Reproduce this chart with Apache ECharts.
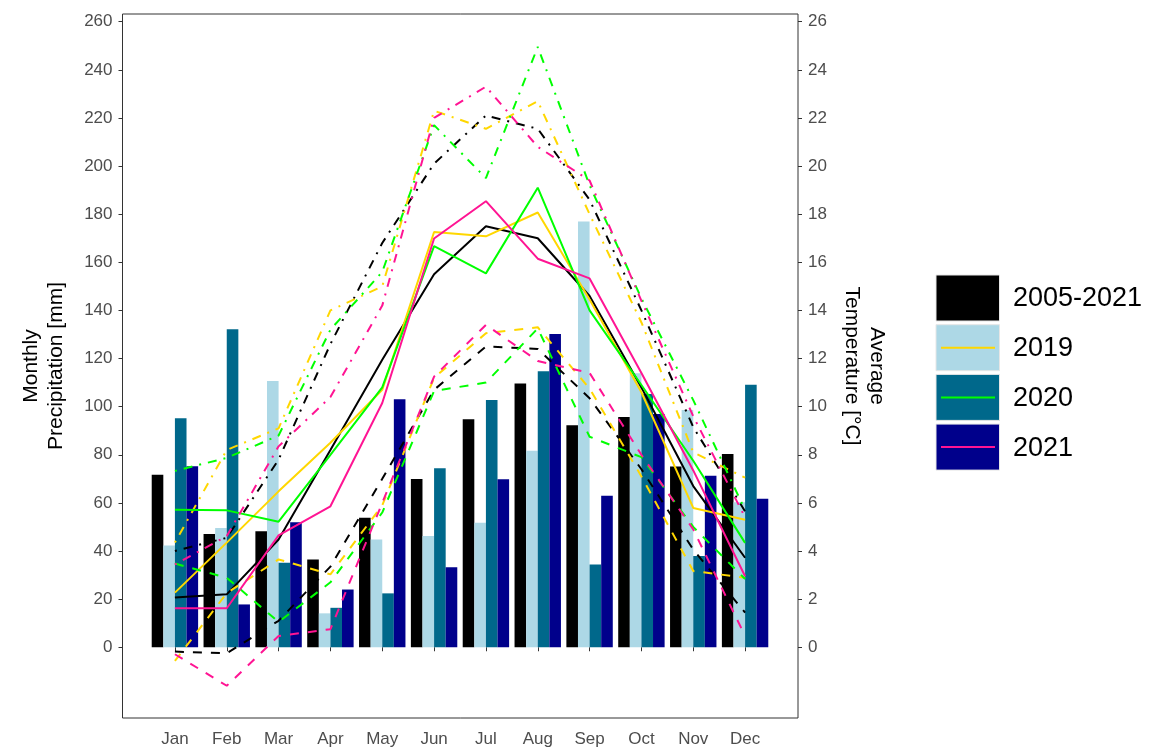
<html>
<head>
  <meta charset="UTF-8">
  <title>Monthly precipitation and temperature</title>
  <script src="https://cdn.jsdelivr.net/npm/echarts@6/dist/echarts.min.js"></script>
  <style>
    body { margin: 0; background: #fff; }
    #main { width: 1151px; height: 751px; }
  </style>
</head>
<body>
<div id="main"></div>
<script>
  var months = ['Jan', 'Feb', 'Mar', 'Apr', 'May', 'Jun', 'Jul', 'Aug', 'Sep', 'Oct', 'Nov', 'Dec'];
  var groups = ['2005-2021', '2019', '2020', '2021'];

  // monthly precipitation [mm]
  var precipAll  = [71.7, 47.1, 48.2, 36.5, 53.8, 69.9, 94.8, 109.6, 92.3, 95.7, 75.1, 80.3];
  var precip2019 = [42.3, 49.6, 110.7, 14.1, 44.8, 46.2, 51.7, 81.7, 177.0, 113.9, 98.6, 60.3];
  var precip2020 = [95.2, 132.2, 35.1, 16.4, 22.4, 74.4, 102.8, 114.7, 34.4, 105.3, 37.9, 109.1];
  var precip2021 = [75.2, 17.8, 52.0, 24.0, 103.1, 33.3, 69.8, 130.2, 63.0, 97.0, 71.3, 61.7];

  // mean temperature [°C]
  var tmeanAll  = [2.07, 2.2, 4.48, 8.2, 11.95, 15.5, 17.5, 17.0, 14.6, 10.8, 6.7, 3.72];
  var tmean2019 = [2.27, 4.35, 6.48, 8.5, 10.7, 17.26, 17.08, 18.07, 14.45, 10.6, 5.79, 5.3];
  var tmean2020 = [5.72, 5.69, 5.22, 8.0, 10.8, 16.67, 15.54, 19.1, 14.0, 10.9, 7.75, 4.34];
  var tmean2021 = [1.62, 1.62, 4.65, 5.86, 10.15, 16.99, 18.54, 16.15, 15.33, 11.4, 7.35, 2.95];

  // minimum temperature [°C]
  var tminAll  = [-0.18, -0.25, 1.1, 3.35, 7.0, 10.7, 12.5, 12.4, 10.35, 7.4, 4.06, 1.44];
  var tmin2019 = [-0.57, 2.25, 3.65, 3.03, 5.9, 11.2, 13.05, 13.3, 10.75, 7.1, 3.17, 2.89];
  var tmin2020 = [3.48, 2.89, 1.05, 2.7, 5.6, 10.65, 11.0, 13.25, 8.75, 7.9, 5.0, 2.84];
  var tmin2021 = [-0.29, -1.6, 0.47, 0.75, 6.0, 11.25, 13.4, 11.9, 11.4, 8.0, 4.9, 0.47];

  // maximum temperature [°C]
  var tmaxAll  = [4.0, 4.55, 7.8, 12.6, 16.8, 20.1, 22.1, 21.55, 18.6, 14.0, 9.15, 5.65];
  var tmax2019 = [4.35, 8.2, 9.1, 14.0, 15.0, 22.3, 21.55, 22.7, 18.0, 13.5, 8.1, 7.05];
  var tmax2020 = [7.33, 7.87, 8.8, 13.2, 15.6, 21.7, 19.5, 24.95, 19.2, 14.5, 10.27, 5.7];
  var tmax2021 = [3.44, 4.62, 8.35, 10.4, 14.2, 22.0, 23.3, 20.8, 19.4, 14.4, 9.6, 5.4];

  var precipTicks = [0, 20, 40, 60, 80, 100, 120, 140, 160, 180, 200, 220, 240, 260];
  var tempTicks = [0, 2, 4, 6, 8, 10, 12, 14, 16, 18, 20, 22, 24, 26];

  var barColors = ['#000000', '#ADD8E6', '#00688B', '#00008B'];
  var lineColors = ['#000000', '#FFD700', '#00FF00', '#FF1493'];

  var precip = [precipAll, precip2019, precip2020, precip2021];
  var tmean = [tmeanAll, tmean2019, tmean2020, tmean2021];
  var tmin = [tminAll, tmin2019, tmin2020, tmin2021];
  var tmax = [tmaxAll, tmax2019, tmax2020, tmax2021];

  var dashed = [9, 9];
  var dotdash = [2, 7, 9, 7];

  var series = [];
  for (var i = 0; i < 4; i++) {
    series.push({
      name: groups[i],
      type: 'bar',
      data: precip[i],
      barWidth: 11.6,
      barGap: '0%',
      itemStyle: { color: barColors[i] },
      z: 2
    });
  }
  function tempLine(name, data, color, type) {
    return {
      name: name,
      type: 'line',
      yAxisIndex: 1,
      data: data,
      showSymbol: false,
      symbol: 'none',
      lineStyle: { color: color, width: 2, type: type },
      z: 3
    };
  }
  for (var i = 0; i < 4; i++) {
    series.push(tempLine(groups[i] + ' max', tmax[i], lineColors[i], dotdash));
    series.push(tempLine(groups[i] + ' min', tmin[i], lineColors[i], dashed));
    series.push(tempLine(groups[i] + ' mean', tmean[i], lineColors[i], 'solid'));
  }

  // legend keys drawn by hand (bar fill + line colour)
  var legendItems = [];
  for (var i = 0; i < 4; i++) {
    var ky = 275 + i * 49.7;
    legendItems.push({
      type: 'rect',
      shape: { x: 936, y: ky, width: 63.5, height: 46 },
      style: { fill: barColors[i], stroke: '#e6e6e6', lineWidth: 1 }
    });
    if (i > 0) {
      legendItems.push({
        type: 'line',
        shape: { x1: 941, y1: ky + 23, x2: 995, y2: ky + 23 },
        style: { stroke: lineColors[i], lineWidth: 2 }
      });
    }
    legendItems.push({
      type: 'text',
      x: 1013,
      y: ky + 24,
      style: {
        text: groups[i],
        fill: '#000',
        font: '27px "Liberation Sans", Arial, sans-serif',
        textAlign: 'left',
        textVerticalAlign: 'middle'
      }
    });
  }

  var tickFont = { fontSize: 17, color: '#4D4D4D', fontFamily: 'Liberation Sans, Arial, sans-serif' };

  var option = {
    animation: false,
    backgroundColor: '#ffffff',
    grid: { left: 149, right: 380, top: 14, bottom: 33 },
    xAxis: {
      type: 'category',
      data: months,
      axisLine: { show: false },
      axisTick: { show: true, alignWithLabel: true, length: 4, lineStyle: { color: '#333333' } },
      axisLabel: Object.assign({ margin: 13 }, tickFont),
      splitLine: { show: false }
    },
    yAxis: [
      {
        type: 'value',
        position: 'left',
        offset: 26.5,
        min: -29.4,
        max: 263.2,
        axisLine: { show: false },
        splitLine: { show: false },
        axisTick: { show: true, length: 4, customValues: precipTicks, lineStyle: { color: '#333333' } },
        axisLabel: Object.assign({ margin: 10, customValues: precipTicks }, tickFont)
      },
      {
        type: 'value',
        position: 'right',
        offset: 27,
        min: -2.94,
        max: 26.32,
        axisLine: { show: false },
        splitLine: { show: false },
        axisTick: { show: true, length: 4, customValues: tempTicks, lineStyle: { color: '#333333' } },
        axisLabel: Object.assign({ margin: 10, customValues: tempTicks }, tickFont)
      }
    ],
    graphic: [
      {
        type: 'rect',
        shape: { x: 122.5, y: 14, width: 675.5, height: 704 },
        style: { fill: null, stroke: '#333333', lineWidth: 1 },
        z: 10
      },
      {
        type: 'text',
        x: 44,
        y: 366,
        rotation: Math.PI / 2,
        style: {
          text: 'Monthly\nPrecipitation [mm]',
          fill: '#000',
          font: '21px "Liberation Sans", Arial, sans-serif',
          textAlign: 'center',
          textVerticalAlign: 'middle',
          lineHeight: 25
        }
      },
      {
        type: 'text',
        x: 864,
        y: 366,
        rotation: -Math.PI / 2,
        style: {
          text: 'Average\nTemperature [°C]',
          fill: '#000',
          font: '21px "Liberation Sans", Arial, sans-serif',
          textAlign: 'center',
          textVerticalAlign: 'middle',
          lineHeight: 25
        }
      }
    ].concat(legendItems),
    series: series
  };

  var myChart = echarts.init(document.getElementById('main'));
  myChart.setOption(option);
</script>
</body>
</html>
